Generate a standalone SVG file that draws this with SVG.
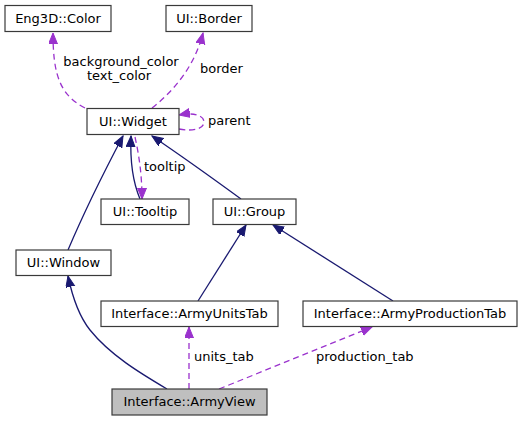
<svg xmlns="http://www.w3.org/2000/svg" width="525" height="421" viewBox="0 0 525 421">
<style>
.box{fill:#ffffff;stroke:#3a3a3a;stroke-width:1.2}
.hl{fill:#bfbfbf}
text{font-family:"DejaVu Sans",sans-serif;font-size:13px;fill:#000}
.c{text-anchor:middle}
.inh{fill:none;stroke:#191970;stroke-width:1.3}
.use{fill:none;stroke:#9a32cd;stroke-width:1.3;stroke-dasharray:6,4}
</style>
<defs>
<marker id="an" markerUnits="userSpaceOnUse" markerWidth="12" markerHeight="10" refX="11" refY="4.5" orient="auto" viewBox="0 0 12 10"><path d="M0,0 L11,4.5 L0,9 z" fill="#191970" stroke="#191970"/></marker>
<marker id="ap" markerUnits="userSpaceOnUse" markerWidth="12" markerHeight="10" refX="11" refY="4.5" orient="auto" viewBox="0 0 12 10"><path d="M0,0 L11,4.5 L0,9 z" fill="#9a32cd" stroke="#9a32cd"/></marker>
</defs>
<g id="edges">
<path class="inh" marker-end="url(#an)" d="M68,250 C85,210 105,170 123,136"/>
<path class="inh" marker-end="url(#an)" d="M140,199 C132,180 130,160 131,136"/>
<path class="use" marker-end="url(#ap)" d="M135,137 C139,155 142,175 142,199"/>
<path class="inh" marker-end="url(#an)" d="M241,199 C215,180 180,155 152,136"/>
<path class="inh" marker-end="url(#an)" d="M198,301 L246,225"/>
<path class="inh" marker-end="url(#an)" d="M393,301 L273,225"/>
<path class="inh" marker-end="url(#an)" d="M167,389 C140,373 110,355 90,330 C78,315 72,295 68,276"/>
<path class="use" marker-end="url(#ap)" d="M189,389 L189,327"/>
<path class="use" marker-end="url(#ap)" d="M219,389 L372,327"/>
<path class="use" marker-end="url(#ap)" d="M85,108 C60,95 53,75 53,33"/>
<path class="use" marker-end="url(#ap)" d="M152,108 C175,90 195,65 203,33"/>
<path class="use" marker-end="url(#ap)" d="M179,129 C195,132 204,128 204,122 C204,116 195,112 179,115"/>
<text x="121" y="66" class="c">background_color</text>
<text x="119" y="80" class="c">text_color</text>
<text x="200" y="73">border</text>
<text x="208" y="125">parent</text>
<text x="144" y="171">tooltip</text>
<text x="194" y="361">units_tab</text>
<text x="316" y="361">production_tab</text>
</g>
<g id="color"><rect class="box" x="5" y="5.5" width="106" height="26"/><text x="58" y="23" class="c">Eng3D::Color</text></g>
<g id="border"><rect class="box" x="166" y="5.5" width="86" height="26"/><text x="209" y="23" class="c">UI::Border</text></g>
<g id="widget"><rect class="box" x="87" y="108.5" width="92" height="26"/><text x="133" y="126" class="c">UI::Widget</text></g>
<g id="tooltip"><rect class="box" x="101" y="199" width="88" height="25.5"/><text x="145" y="216" class="c">UI::Tooltip</text></g>
<g id="group"><rect class="box" x="213" y="199" width="83" height="25.5"/><text x="254.5" y="216" class="c">UI::Group</text></g>
<g id="window"><rect class="box" x="16" y="250" width="95" height="25.5"/><text x="63.5" y="267" class="c">UI::Window</text></g>
<g id="unitstab"><rect class="box" x="101" y="301" width="177" height="25.5"/><text x="189.5" y="318" class="c">Interface::ArmyUnitsTab</text></g>
<g id="prodtab"><rect class="box" x="303" y="301" width="214" height="25.5"/><text x="410" y="318" class="c">Interface::ArmyProductionTab</text></g>
<g id="armyview"><rect class="box hl" x="112" y="389" width="155" height="26"/><text x="189.5" y="406" class="c">Interface::ArmyView</text></g>
</svg>
